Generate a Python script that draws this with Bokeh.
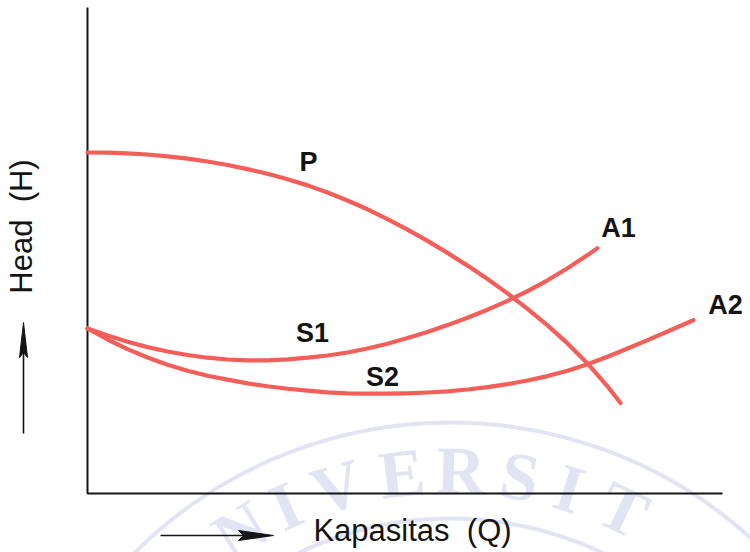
import math
from bokeh.plotting import figure
from bokeh.models import Range1d, Label
from bokeh.core.properties import value
from bokeh.embed import file_html
from bokeh.resources import INLINE

# Pump curve P and system curves S1 (ending at A1) and S2 (ending at A2).
# Capacity Q and head H are given in percent of the axis length.
q_pump = [0.00, 3.15, 6.30, 9.45, 12.60, 15.75, 18.90, 22.05, 25.20, 28.35, 31.50, 34.65, 37.80, 40.94,
          44.09, 47.24, 50.39, 53.54, 56.69, 59.84, 62.99, 66.14, 69.29, 72.44, 75.59, 78.74, 81.89, 83.94]
h_pump = [70.16, 70.12, 70.00, 69.75, 69.38, 68.91, 68.31, 67.59, 66.75, 65.78, 64.67, 63.40, 61.93, 60.29,
          58.48, 56.46, 54.28, 51.98, 49.51, 46.89, 44.14, 41.17, 38.00, 34.59, 30.88, 26.77, 22.04, 18.62]

q_sys1 = [0.00, 3.15, 6.30, 9.45, 12.60, 15.75, 18.90, 22.05, 25.20, 28.35, 31.50, 34.65, 37.80, 40.94,
          44.09, 47.24, 50.39, 53.54, 56.69, 59.84, 62.99, 66.14, 69.29, 72.44, 75.59, 78.74, 80.31]
h_sys1 = [33.95, 32.51, 31.23, 30.12, 29.22, 28.50, 27.94, 27.57, 27.41, 27.41, 27.61, 27.94, 28.40, 29.01,
          29.84, 30.82, 31.98, 33.25, 34.65, 36.17, 37.82, 39.63, 41.65, 43.87, 46.34, 49.05, 50.49]

q_sys2 = [0.00, 3.15, 6.30, 9.45, 12.60, 15.75, 18.90, 22.05, 25.20, 28.35, 31.50, 34.65, 37.80, 40.94,
          44.09, 47.24, 50.39, 53.54, 56.69, 59.84, 62.99, 66.14, 69.29, 72.44, 75.59, 78.74, 81.89, 85.04,
          88.19, 91.34, 94.49, 95.43]
h_sys2 = [33.95, 31.69, 29.71, 27.98, 26.50, 25.27, 24.24, 23.42, 22.67, 22.06, 21.56, 21.15, 20.82, 20.62,
          20.53, 20.53, 20.62, 20.78, 21.03, 21.40, 21.89, 22.51, 23.25, 24.16, 25.27, 26.58, 28.15, 29.84,
          31.56, 33.33, 35.14, 35.68]

curve_labels = ["P", "A1", "A2", "S1", "S2"]
axis_titles = ["Kapasitas\u00a0 (Q)", "Head\u00a0 (H)"]
seal_letters = ["N", "I", "V", "E", "R", "S", "I", "T"]

RED = "#F45E58"
INK = "#141414"
SEAL = "#E2E3F3"

W, H = 750, 552
# pixel position of the axis box inside the canvas
LEFT, RIGHT, BOTTOM, TOP = 87, 722, 493, 7
sx = (RIGHT - LEFT) / 100.0
sy = (BOTTOM - TOP) / 100.0


def qx(px):
    return (px - LEFT) / sx


def hy(py):
    return (BOTTOM - py) / sy


p = figure(width=W, height=H, output_backend="svg", toolbar_location=None,
           x_axis_type=None, y_axis_type=None,
           x_range=Range1d(qx(0), qx(W)), y_range=Range1d(hy(H), hy(0)),
           min_border=0, outline_line_color=None)
p.grid.visible = False
p.background_fill_color = "white"
p.border_fill_color = "white"

# faint round seal in the background, only its upper rim shows
cx, cy, r_text = 450, 870, 400
p.circle(x=[qx(cx)] * 2, y=[hy(cy)] * 2, radius=[448, 352], radius_units="screen",
         fill_color=None, line_color=SEAL, line_width=4)
seal_angles = [-31.7, -24.3, -16.5, -7.0, 1.5, 10.0, 17.3, 25.6]
lx, ly, la = [], [], []
for deg in seal_angles:
    t = math.radians(deg)
    lx.append(qx(cx + r_text * math.sin(t)))
    ly.append(hy(cy - r_text * math.cos(t)))
    la.append(-t)
p.text(x=lx, y=ly, text=seal_letters, angle=la, text_align="center", text_baseline="middle",
       text_font=value("Liberation Serif"), text_font_style="bold", text_font_size="68px",
       text_color=SEAL)

# axis lines (L shape)
p.line([0, 0, 100], [100, 0, 0], line_color=INK, line_width=2)

# curves
for qs, hs in [(q_pump, h_pump), (q_sys1, h_sys1), (q_sys2, h_sys2)]:
    p.line(qs, hs, line_color=RED, line_width=4.2, line_cap="round", line_join="round")

# curve names
label_pos = {"P": (308, 161), "A1": (618, 227), "A2": (725, 304),
             "S1": (312, 332), "S2": (382, 376)}
for name in curve_labels:
    px, py = label_pos[name]
    p.add_layout(Label(x=qx(px), y=hy(py), text=name, text_align="center",
                       text_baseline="middle", text_font="Liberation Sans",
                       text_font_style="bold", text_font_size="27px",
                       text_color=INK))

# horizontal axis title with its arrow
p.add_layout(Label(x=qx(412), y=hy(530), text=axis_titles[0], text_align="center",
                   text_baseline="middle", text_font="Liberation Sans",
                   text_font_size="31px", text_color=INK))
p.line([qx(160), qx(245)], [hy(535), hy(535)], line_color=INK, line_width=1.6)
p.patch([qx(273), qx(238), qx(243), qx(238)],
        [hy(535), hy(530), hy(535), hy(540)], fill_color=INK, line_color=INK, line_width=1)

# vertical axis title with its arrow
p.add_layout(Label(x=qx(21), y=hy(226), text=axis_titles[1], angle=90, angle_units="deg",
                   text_align="center", text_baseline="middle",
                   text_font="Liberation Sans", text_font_size="31px", text_color=INK))
p.line([qx(23), qx(23)], [hy(433), hy(350)], line_color=INK, line_width=1.6)
p.patch([qx(23), qx(19), qx(23), qx(27)],
        [hy(322), hy(357), hy(352), hy(357)], fill_color=INK, line_color=INK, line_width=1)

open("out.html", "w").write(file_html(p, INLINE))
